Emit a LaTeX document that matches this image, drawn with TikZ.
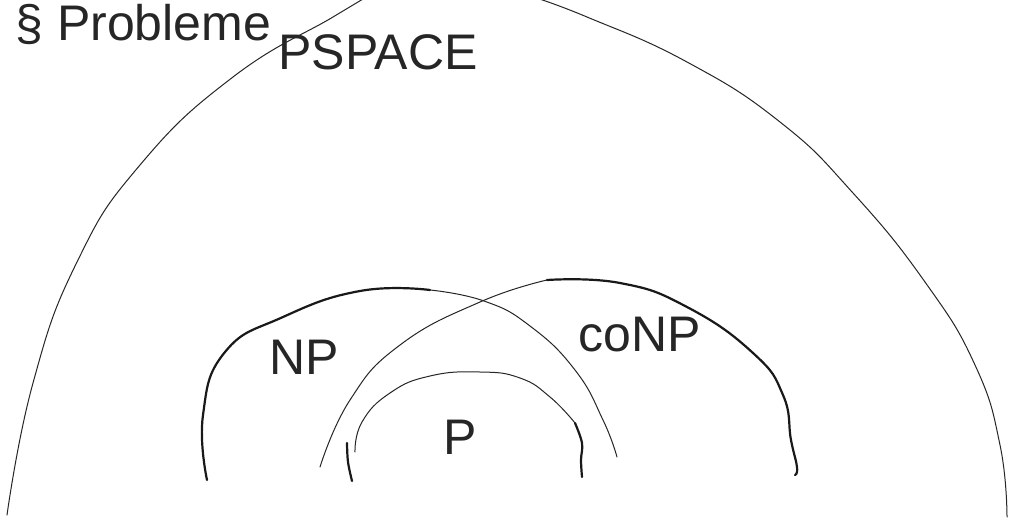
\documentclass[tikz,border=0pt]{standalone}
\usepackage{fontspec}
\setmainfont{Liberation Sans}
\begin{document}
\begin{tikzpicture}[x=0.5pt,y=-0.5pt,
  thin line/.style={draw=black!85,line width=0.5pt,line cap=round},
  thick line/.style={draw=black!90,line width=1.1pt,line cap=round},
  lbl/.style={font=\fontsize{25}{30}\selectfont,text=black!85,inner sep=0pt}]
\useasboundingbox (0,0) rectangle (1012,525);
\fill[white] (0,0) rectangle (1012,525);
% PSPACE outer arc
\draw[thin line] plot[smooth,tension=0.8] coordinates {(7,515) (33,383) (77,262) (140,165) (233,77) (333,17) (368,-4)};
\draw[thin line] plot[smooth,tension=0.8] coordinates {(530,-4) (587,17) (687,62) (780,122) (853,193) (925,282) (975,365) (1000,445) (1007,517)};
% NP arc
\draw[thick line] plot[smooth,tension=0.8] coordinates {(207,480) (203,415) (225,352) (283,317) (360,291) (430,290)};
\draw[thin line] plot[smooth,tension=0.8] coordinates {(430,290) (484,301) (530,326) (575,370) (603,420) (617,457)};
% coNP arc
\draw[thin line] plot[smooth,tension=0.8] coordinates {(320,467) (350,400) (400,345) (480,302) (547,280)};
\draw[thick line] plot[smooth,tension=0.8] coordinates {(547,280) (620,283) (687,307) (753,353) (783,395) (791,440) (797,467) (795,475)};
% P arc
\draw[thin line] plot[smooth,tension=0.8] coordinates {(355,452) (362,422) (390,393) (430,376) (480,372) (520,378) (550,397) (575,423)};
\draw[thick line] plot[smooth,tension=0.6] coordinates {(575,423) (582,443) (581,460) (582,477)};
\draw[thick line] plot[smooth,tension=0.6] coordinates {(347,443) (348,462) (352,481)};
% labels
\node[lbl,anchor=base west] (top) at (15,40) {§ Probleme};
\node[lbl] (pspace) at (378,52) {PSPACE};
\node[lbl] (np) at (304,357) {NP};
\node[lbl] (conp) at (640,335) {coNP};
\node[lbl] (p) at (460,437) {P};
\end{tikzpicture}
\end{document}
